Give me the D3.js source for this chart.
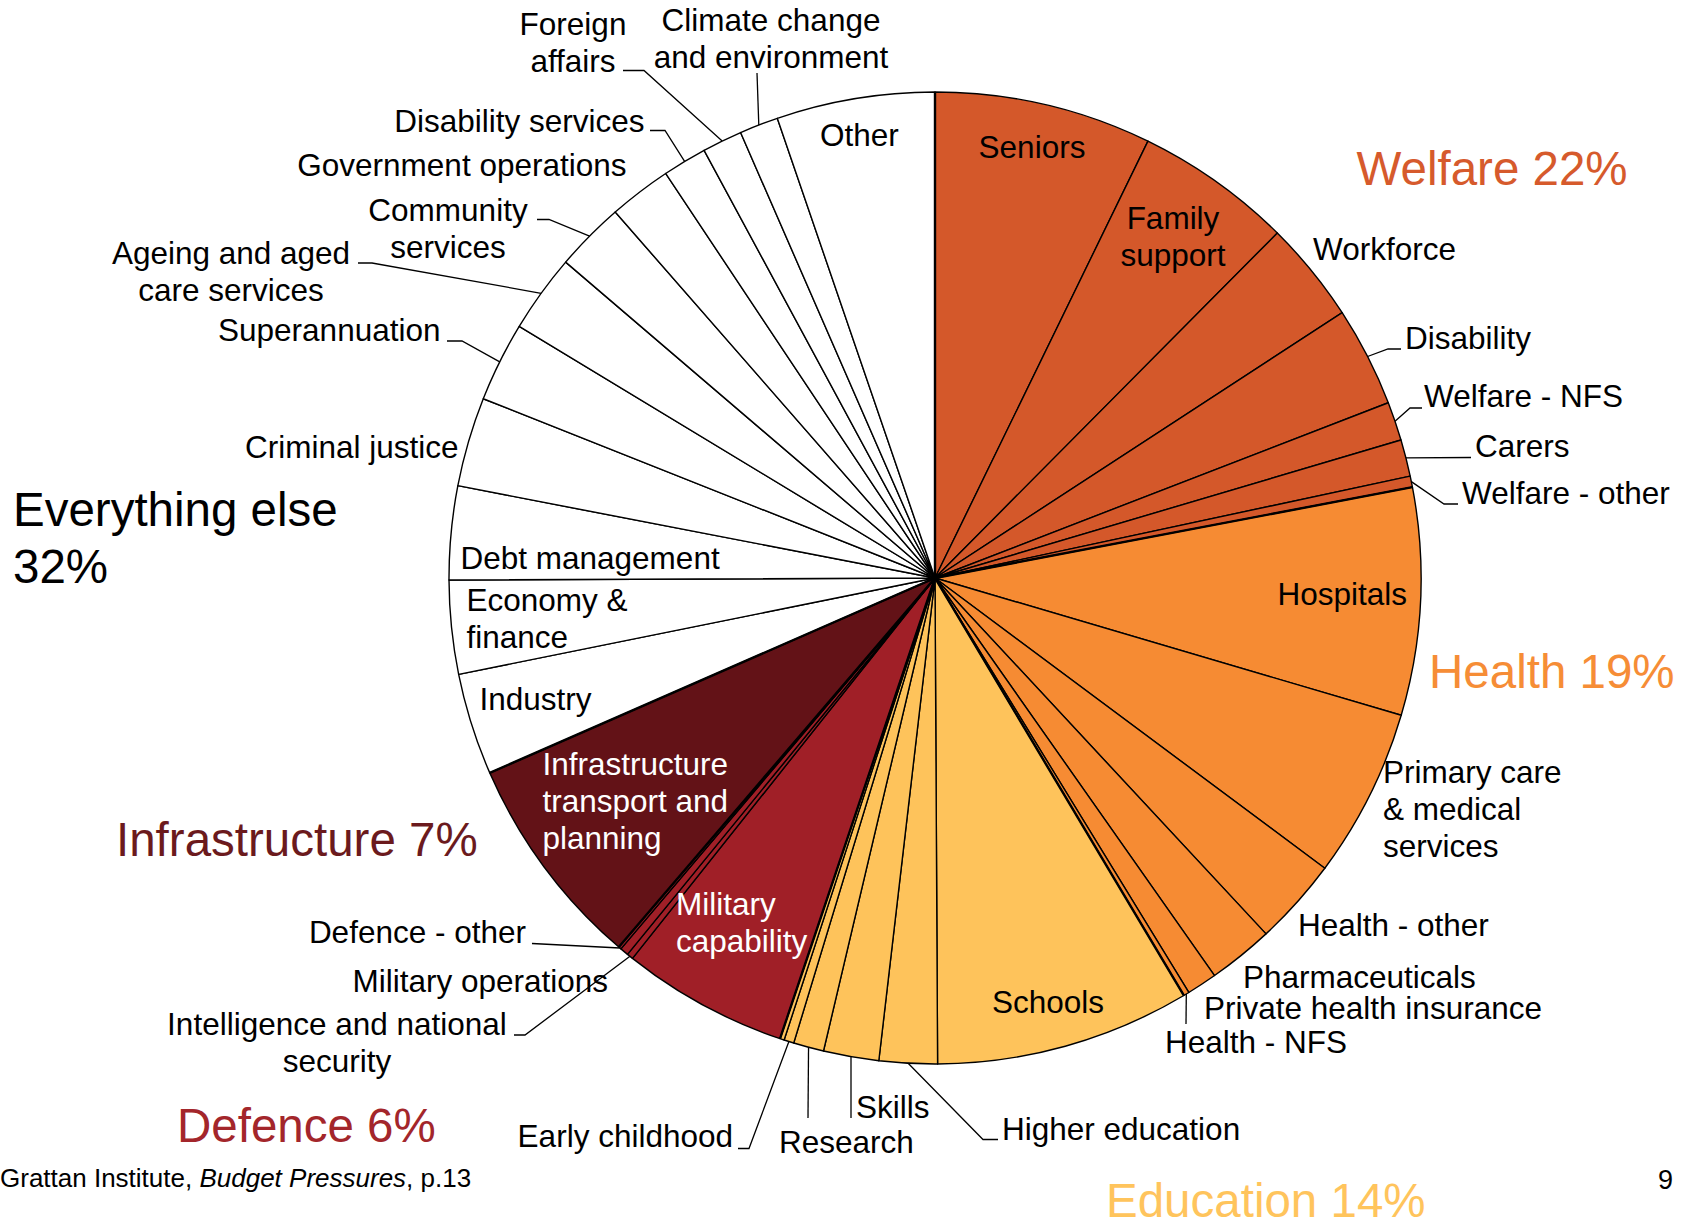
<!DOCTYPE html>
<html>
<head>
<meta charset="utf-8">
<script src="https://cdn.jsdelivr.net/npm/d3@7"></script>
<style>
    body { margin: 0; background: #fff; }
    text { font-family: "Liberation Sans", Arial, sans-serif; }
</style>
</head>
<body>
<div id="chart"></div>
<script>
// spending shares (% of budget), read clockwise from 12 o'clock
const welfareNames = ["Seniors", "Family support", "Workforce", "Disability", "Welfare - NFS", "Carers", "Welfare - other"];
const welfareValues = [7.22, 5.22, 3.37, 3.32, 1.29, 1.22, 0.37];

const healthNames = ["Hospitals", "Primary care & medical services", "Health - other", "Pharmaceuticals", "Private health insurance", "Health - NFS"];
const healthValues = [7.55, 5.63, 2.89, 2.17, 1.01, 0.19];

const educationNames = ["Schools", "Higher education", "Skills", "Research", "Early childhood", "Education - other"];
const educationValues = [8.47, 1.93, 1.84, 1.01, 0.33, 0.14];

const defenceNames = ["Military capability", "Intelligence and national security", "Military operations", "Defence - other"];
const defenceValues = [5.53, 0.21, 0.28, 0.09];

const infrastructureNames = ["Infrastructure transport and planning"];
const infrastructureValues = [7.16];

const elseNames = ["Industry", "Economy & finance", "Debt management", "Criminal justice", "Superannuation",
    "Ageing and aged care services", "Community services", "Government operations", "Disability services",
    "Foreign affairs", "Climate change and environment", "Other"];
const elseValues = [3.39, 3.11, 3.11, 2.97, 2.65, 2.60, 2.31, 2.08, 1.47, 1.33, 1.29, 5.26];

const groupNames = ["Welfare", "Health", "Education", "Defence", "Infrastructure", "Everything else"];
const groupLabels = ["Welfare 22%", "Health 19%", "Education 14%", "Defence 6%", "Infrastructure 7%", "Everything else|32%"];

// colours per group
const fills = {
    "Welfare": "#d4582a",
    "Health": "#f68b33",
    "Education": "#fec35b",
    "Defence": "#a01f27",
    "Infrastructure": "#631217",
    "Everything else": "#ffffff"
};
const titleColors = {
    "Welfare": "#d65a2c",
    "Health": "#f68d36",
    "Education": "#ffc45c",
    "Defence": "#a3262b",
    "Infrastructure": "#6b1a1d",
    "Everything else": "#000000"
};

// svg set up
let svgWidth = 1690;
let svgHeight = 1222;
let cx = 935;
let cy = 578;
let radius = 486;

let svg = d3.select("#chart")
    .append("svg")
    .attr("width", svgWidth)
    .attr("height", svgHeight);

// join names/values into one slice list
let groupData = [
    [welfareNames, welfareValues],
    [healthNames, healthValues],
    [educationNames, educationValues],
    [defenceNames, defenceValues],
    [infrastructureNames, infrastructureValues],
    [elseNames, elseValues]
];
let slices = [];
groupData.forEach((g, i) => {
    g[0].forEach((name, j) => {
        slices.push({ name: name, value: g[1][j], group: groupNames[i] });
    });
});
let groupTotals = groupData.map((g, i) => ({ group: groupNames[i], value: d3.sum(g[1]) }));

let pie = d3.pie().sort(null).value(d => d.value);
let arc = d3.arc().innerRadius(0).outerRadius(radius);

let pieGroup = svg.append("g")
    .attr("transform", `translate(${cx},${cy})`);

let arcs = pie(slices);

pieGroup.selectAll("path.slice")
    .data(arcs)
    .enter()
    .append("path")
    .attr("class", "slice")
    .attr("d", arc)
    .attr("fill", d => fills[d.data.group])
    .attr("stroke", "#000")
    .attr("stroke-width", 1.4)
    .attr("stroke-linejoin", "round");

// heavier lines between the groups
pieGroup.selectAll("line.groupline")
    .data(pie(groupTotals))
    .enter()
    .append("line")
    .attr("class", "groupline")
    .attr("x1", 0)
    .attr("y1", 0)
    .attr("x2", d => d3.pointRadial(d.startAngle, radius)[0])
    .attr("y2", d => d3.pointRadial(d.startAngle, radius)[1])
    .attr("stroke", "#000")
    .attr("stroke-width", 2.4);

// slice label layout: lines, x, first baseline, anchor, leader elbow points
const labelLayout = {
    "Seniors": { lines: ["Seniors"], x: 1032, y: 158, anchor: "middle" },
    "Family support": { lines: ["Family", "support"], x: 1173, y: 229, anchor: "middle" },
    "Workforce": { lines: ["Workforce"], x: 1313, y: 260, anchor: "start" },
    "Disability": { lines: ["Disability"], x: 1405, y: 349, anchor: "start", leader: [[1401, 349], [1388, 349]] },
    "Welfare - NFS": { lines: ["Welfare - NFS"], x: 1424, y: 407, anchor: "start", leader: [[1422, 408], [1410, 408]] },
    "Carers": { lines: ["Carers"], x: 1475, y: 457, anchor: "start", leader: [[1471, 457.5]] },
    "Welfare - other": { lines: ["Welfare - other"], x: 1462, y: 504, anchor: "start", leader: [[1458, 504], [1444, 504]] },
    "Hospitals": { lines: ["Hospitals"], x: 1407, y: 605, anchor: "end" },
    "Primary care & medical services": { lines: ["Primary care", "& medical", "services"], x: 1383, y: 783, anchor: "start" },
    "Health - other": { lines: ["Health - other"], x: 1298, y: 936, anchor: "start" },
    "Pharmaceuticals": { lines: ["Pharmaceuticals"], x: 1243, y: 988, anchor: "start" },
    "Private health insurance": { lines: ["Private health insurance"], x: 1204, y: 1018.5, anchor: "start" },
    "Health - NFS": { lines: ["Health - NFS"], x: 1165, y: 1053, anchor: "start", leader: [[1186, 1024]] },
    "Schools": { lines: ["Schools"], x: 992, y: 1012.5, anchor: "start" },
    "Higher education": { lines: ["Higher education"], x: 1002, y: 1140, anchor: "start", leader: [[998, 1139.5], [983, 1139.5]] },
    "Skills": { lines: ["Skills"], x: 856, y: 1118, anchor: "start", leader: [[851, 1118]] },
    "Research": { lines: ["Research"], x: 779, y: 1153, anchor: "start", leader: [[808, 1118]] },
    "Early childhood": { lines: ["Early childhood"], x: 733, y: 1147, anchor: "end", leader: [[738, 1148.5], [749, 1148.5]] },
    "Military capability": { lines: ["Military", "capability"], x: 676, y: 915, anchor: "start", color: "#fff" },
    "Intelligence and national security": { lines: ["Intelligence and national", "security"], x: 337, y: 1034.5, anchor: "middle", leader: [[514, 1035], [525, 1035]] },
    "Military operations": { lines: ["Military operations"], x: 352.5, y: 992, anchor: "start" },
    "Defence - other": { lines: ["Defence - other"], x: 526, y: 943, anchor: "end", leader: [[532, 943.5]] },
    "Infrastructure transport and planning": { lines: ["Infrastructure", "transport and", "planning"], x: 542.5, y: 774.5, anchor: "start", color: "#fff" },
    "Industry": { lines: ["Industry"], x: 479.5, y: 710, anchor: "start" },
    "Economy & finance": { lines: ["Economy &", "finance"], x: 466.5, y: 611, anchor: "start" },
    "Debt management": { lines: ["Debt management"], x: 460.5, y: 569, anchor: "start" },
    "Criminal justice": { lines: ["Criminal justice"], x: 458.5, y: 458, anchor: "end" },
    "Superannuation": { lines: ["Superannuation"], x: 440.5, y: 341, anchor: "end", leader: [[447, 341], [462, 341]] },
    "Ageing and aged care services": { lines: ["Ageing and aged", "care services"], x: 231, y: 264, anchor: "middle", leader: [[358, 263], [372, 263]] },
    "Community services": { lines: ["Community", "services"], x: 448, y: 221, anchor: "middle", leader: [[537, 219.5], [549, 219.5]] },
    "Government operations": { lines: ["Government operations"], x: 626.5, y: 176, anchor: "end" },
    "Disability services": { lines: ["Disability services"], x: 644.5, y: 132, anchor: "end", leader: [[650, 130.5], [665, 130.5]] },
    "Foreign affairs": { lines: ["Foreign", "affairs"], x: 573, y: 35, anchor: "middle", leader: [[623, 70.5], [644, 70.5]] },
    "Climate change and environment": { lines: ["Climate change", "and environment"], x: 771, y: 31, anchor: "middle", leader: [[757, 73]] },
    "Other": { lines: ["Other"], x: 820, y: 146, anchor: "start" }
};

// group title layout
const titleLayout = {
    "Welfare": { x: 1356.5, y: 185 },
    "Health": { x: 1429, y: 688 },
    "Education": { x: 1106, y: 1217 },
    "Defence": { x: 177, y: 1141.5 },
    "Infrastructure": { x: 116, y: 856 },
    "Everything else": { x: 13, y: 526 }
};

// leader lines: elbow points then the mid point of the slice edge
let leaderData = arcs.filter(d => labelLayout[d.data.name] && labelLayout[d.data.name].leader);
svg.selectAll("path.leader")
    .data(leaderData)
    .enter()
    .append("path")
    .attr("class", "leader")
    .attr("d", d => {
        let mid = (d.startAngle + d.endAngle) / 2;
        let p = d3.pointRadial(mid, radius);
        let pts = labelLayout[d.data.name].leader.concat([[cx + p[0], cy + p[1]]]);
        return d3.line()(pts);
    })
    .attr("fill", "none")
    .attr("stroke", "#000")
    .attr("stroke-width", 1.3);

// slice labels
let labelData = arcs.filter(d => labelLayout[d.data.name]);
let labels = svg.selectAll("text.label")
    .data(labelData)
    .enter()
    .append("text")
    .attr("class", "label")
    .attr("font-size", "31.5px")
    .attr("fill", d => labelLayout[d.data.name].color || "#000")
    .attr("text-anchor", d => labelLayout[d.data.name].anchor);
labels.each(function(d) {
    let lay = labelLayout[d.data.name];
    let t = d3.select(this);
    lay.lines.forEach((ln, i) => {
        t.append("tspan")
            .attr("x", lay.x)
            .attr("y", lay.y + i * 37)
            .text(ln);
    });
});

// group titles
groupNames.forEach((g, i) => {
    let lay = titleLayout[g];
    let t = svg.append("text")
        .attr("font-size", "47.5px")
        .attr("fill", titleColors[g]);
    groupLabels[i].split("|").forEach((ln, j) => {
        t.append("tspan")
            .attr("x", lay.x)
            .attr("y", lay.y + j * 57)
            .text(ln);
    });
});

// source note and page number
let source = svg.append("text")
    .attr("x", 0)
    .attr("y", 1187)
    .attr("font-size", "26px")
    .attr("fill", "#000");
source.append("tspan").text("Grattan Institute, ");
source.append("tspan").attr("font-style", "italic").text("Budget Pressures");
source.append("tspan").text(", p.13");

svg.append("text")
    .attr("x", 1673)
    .attr("y", 1189)
    .attr("text-anchor", "end")
    .attr("font-size", "27px")
    .attr("fill", "#000")
    .text("9");
</script>
</body>
</html>
